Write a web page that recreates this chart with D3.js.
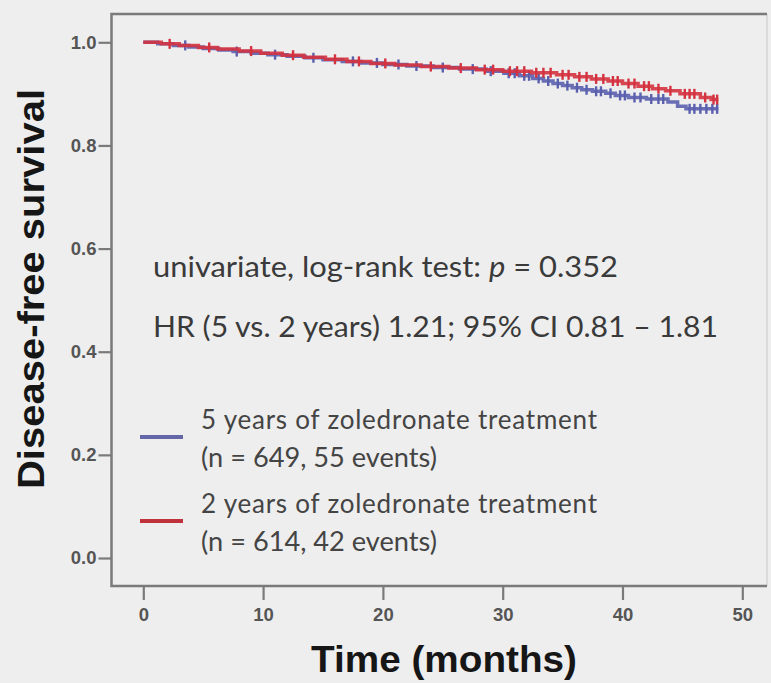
<!DOCTYPE html>
<html>
<head>
<meta charset="utf-8">
<script src="https://cdn.jsdelivr.net/npm/d3@7"></script>
<style>
  body { margin: 0; background: #eeeeee; }
  svg { display: block; }
</style>
</head>
<body>
<script>
// Kaplan-Meier steps (months, survival)
const fiveYrTimes = [0, 1.2, 2.5, 3.8, 5.0, 6.3, 7.5, 9.0, 10.4, 12.0, 13.5, 15.0, 16.6, 18.2, 20.0, 22.0, 24.2, 26.4, 28.6, 30.1, 31.4, 32.5, 33.4, 34.2, 35.0, 35.8, 36.6, 37.5, 38.6, 39.4, 40.5, 42.0, 43.8, 44.6, 45.3, 48.0];
const fiveYrSurv  = [1.0, 0.997, 0.994, 0.991, 0.988, 0.985, 0.982, 0.979, 0.976, 0.973, 0.970, 0.966, 0.963, 0.960, 0.957, 0.954, 0.951, 0.948, 0.944, 0.940, 0.935, 0.930, 0.925, 0.920, 0.916, 0.912, 0.908, 0.905, 0.901, 0.897, 0.893, 0.890, 0.884, 0.876, 0.871, 0.871];
const fiveYrCensor = [3.5, 7.8, 11.0, 14.2, 17.5, 19.5, 21.3, 22.8, 25.0, 27.5, 29.0, 30.5, 31.0, 31.8, 32.2, 33.0, 33.8, 34.6, 35.4, 36.2, 37.0, 37.8, 38.2, 39.0, 39.8, 40.2, 41.0, 41.5, 42.4, 43.0, 43.4, 45.6, 46.0, 46.5, 47.0, 47.5, 47.9];

const twoYrTimes = [0, 1.5, 3.0, 4.6, 6.2, 8.0, 9.8, 11.6, 13.4, 15.2, 17.0, 19.0, 21.0, 23.2, 25.5, 27.8, 30.0, 32.4, 34.5, 36.0, 37.4, 38.8, 40.0, 41.3, 42.5, 43.6, 44.8, 46.5, 47.4, 48.0];
const twoYrSurv  = [1.0, 0.997, 0.994, 0.990, 0.987, 0.983, 0.979, 0.975, 0.971, 0.967, 0.963, 0.959, 0.956, 0.953, 0.950, 0.947, 0.944, 0.941, 0.937, 0.933, 0.929, 0.925, 0.920, 0.915, 0.910, 0.906, 0.900, 0.893, 0.889, 0.889];
const twoYrCensor = [2.2, 5.5, 9.0, 12.5, 16.0, 18.0, 20.2, 24.0, 26.5, 28.5, 29.2, 30.6, 31.2, 31.8, 32.8, 33.4, 34.0, 35.0, 35.5, 36.4, 37.0, 37.8, 38.4, 39.2, 39.6, 40.5, 41.0, 41.8, 42.2, 43.0, 44.0, 45.2, 45.6, 46.0, 46.9, 47.6, 47.9];

const xTicks = [0, 10, 20, 30, 40, 50];
const yTicks = [0, 0.2, 0.4, 0.6, 0.8, 1.0];

const groups = [
  { times: fiveYrTimes, surv: fiveYrSurv, censor: fiveYrCensor, color: "#5a5fae", legendColor: "#6466a8",
    label: ["5 years of zoledronate treatment", "(n = 649, 55 events)"] },
  { times: twoYrTimes, surv: twoYrSurv, censor: twoYrCensor, color: "#d4323f", legendColor: "#bf323c",
    label: ["2 years of zoledronate treatment", "(n = 614, 42 events)"] }
];

const width = 771, height = 683;
const svg = d3.select("body").append("svg")
  .attr("width", width)
  .attr("height", height);

svg.append("rect").attr("width", width).attr("height", height).attr("fill", "#eeeeee");

const x = d3.scaleLinear().domain([0, 50]).range([143.3, 742.3]);
const y = d3.scaleLinear().domain([0, 1]).range([558, 42.3]);

const frameL = 111.5, frameT = 14, frameR = 767, frameB = 586;

// frame
svg.append("line").attr("x1", frameR).attr("x2", frameR).attr("y1", frameT).attr("y2", frameB)
  .attr("stroke", "#d4d4d4").attr("stroke-width", 1.5);
svg.append("path")
  .attr("d", `M${frameR},${frameT}H${frameL}V${frameB}H${frameR}`)
  .attr("fill", "none").attr("stroke", "#7a7a7a").attr("stroke-width", 2.5);

// axes
const yAxis = svg.append("g")
  .attr("transform", `translate(${frameL},0)`)
  .call(d3.axisLeft(y).tickValues(yTicks).tickFormat(d3.format(".1f")).tickSize(13).tickPadding(2));
const xAxis = svg.append("g")
  .attr("transform", `translate(0,${frameB})`)
  .call(d3.axisBottom(x).tickValues(xTicks).tickSize(14).tickPadding(8));

[yAxis, xAxis].forEach(g => {
  g.attr("font-size", null).attr("font-family", null);
  g.select(".domain").remove();
  g.selectAll(".tick line").attr("stroke", "#7a7a7a").attr("stroke-width", 2.2);
  g.selectAll(".tick text")
    .attr("fill", "#555")
    .attr("font-family", "'Liberation Sans', Arial, sans-serif")
    .attr("font-size", 18.5)
    .attr("font-weight", "bold");
});

// axis titles
svg.append("text")
  .attr("transform", "translate(44,289) rotate(-90)")
  .attr("text-anchor", "middle")
  .attr("textLength", 400)
  .attr("lengthAdjust", "spacingAndGlyphs")
  .style("font-family", "'Liberation Sans', Arial, sans-serif")
  .style("font-size", "37px")
  .style("font-weight", "bold")
  .attr("fill", "#161616")
  .text("Disease-free survival");

svg.append("text")
  .attr("x", 444).attr("y", 672)
  .attr("text-anchor", "middle")
  .attr("textLength", 266)
  .attr("lengthAdjust", "spacingAndGlyphs")
  .style("font-family", "'Liberation Sans', Arial, sans-serif")
  .style("font-size", "37px")
  .style("font-weight", "bold")
  .attr("fill", "#161616")
  .text("Time (months)");

// curves
const line = d3.line()
  .x(d => x(d[0]))
  .y(d => y(d[1]))
  .curve(d3.curveStepAfter);

function survAt(g, t) {
  const i = d3.bisectRight(g.times, t) - 1;
  return g.surv[Math.max(0, i)];
}

groups.forEach(g => {
  const pts = g.times.map((t, i) => [t, g.surv[i]]);
  const layer = svg.append("g");
  layer.append("path")
    .attr("d", line(pts))
    .attr("fill", "none")
    .attr("stroke", g.color)
    .attr("stroke-width", 3.5)
    .attr("stroke-opacity", 0.9);
  layer.selectAll("line.censor")
    .data(g.censor)
    .join("line")
    .attr("class", "censor")
    .attr("x1", d => x(d)).attr("x2", d => x(d))
    .attr("y1", d => y(survAt(g, d)) - 5)
    .attr("y2", d => y(survAt(g, d)) + 5)
    .attr("stroke", g.color)
    .attr("stroke-width", 2.4);
});

// annotations
const font = "Lato, 'Open Sans', sans-serif";
const t1 = svg.append("text")
  .attr("x", 153).attr("y", 277)
  .attr("textLength", 465)
  .attr("lengthAdjust", "spacingAndGlyphs")
  .style("font-family", font).style("font-size", "29px")
  .attr("fill", "#3a3a3a");
t1.append("tspan").text("univariate, log-rank test: ");
t1.append("tspan").style("font-style", "italic").text("p");
t1.append("tspan").text(" = 0.352");

svg.append("text")
  .attr("x", 153).attr("y", 337)
  .attr("textLength", 565)
  .attr("lengthAdjust", "spacingAndGlyphs")
  .style("font-family", font).style("font-size", "29px")
  .attr("fill", "#3a3a3a")
  .text("HR (5 vs. 2 years) 1.21; 95% CI 0.81 \u2013 1.81");

// legend
const legendY = [429, 513];
groups.forEach((g, i) => {
  const ly = legendY[i];
  svg.append("line")
    .attr("x1", 140).attr("x2", 183)
    .attr("y1", ly + 8).attr("y2", ly + 8)
    .attr("stroke", g.legendColor).attr("stroke-width", 4);
  svg.append("text")
    .attr("x", 201).attr("y", ly)
    .attr("textLength", 396).attr("lengthAdjust", "spacing")
    .style("font-family", font).style("font-size", "26px")
    .attr("fill", "#444")
    .text(g.label[0]);
  svg.append("text")
    .attr("x", 201).attr("y", ly + 38)
    .attr("textLength", 236).attr("lengthAdjust", "spacingAndGlyphs")
    .style("font-family", font).style("font-size", "26px")
    .attr("fill", "#444")
    .text(g.label[1]);
});
</script>
</body>
</html>
